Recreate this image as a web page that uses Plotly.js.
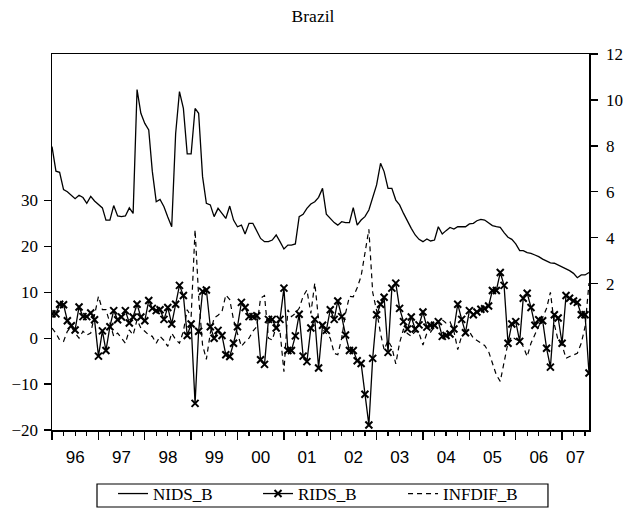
<!DOCTYPE html>
<html>
<head>
<meta charset="utf-8">
<script src="https://cdn.plot.ly/plotly-3.0.1.min.js"></script>
<style>html,body{margin:0;padding:0;background:#fff;}#chart{width:626px;height:517px;}</style>
</head>
<body>
<div id="chart"></div>
<script>
// Monthly observations, 1996M01 - 2007M08
var startYear = 1996;
var yearLabels = ["96","97","98","99","00","01","02","03","04","05","06","07"];

// NIDS_B (right axis)
var nids = [
  7.97, 6.90, 6.85, 6.10, 6.00, 5.85, 5.70, 5.85, 5.75, 5.50, 5.80, 5.60,
  5.45, 5.30, 4.77, 4.77, 5.40, 4.95, 4.92, 4.95, 5.30, 5.06, 10.45, 9.42,
  8.98, 8.69, 6.90, 5.57, 5.67, 5.35, 4.90, 4.48, 8.54, 10.36, 9.63, 7.65,
  7.65, 9.63, 9.42, 6.66, 5.50, 5.43, 4.92, 5.28, 5.06, 4.84, 5.38, 4.77,
  4.48, 4.55, 4.16, 4.63, 4.63, 4.27, 3.97, 3.83, 3.83, 3.90, 4.12, 3.83,
  3.51, 3.68, 3.68, 3.73, 4.92, 5.02, 5.28, 5.47, 5.57, 5.76, 6.15, 5.03,
  4.84, 4.66, 4.55, 4.70, 4.66, 4.66, 5.31, 4.55, 4.77, 4.92, 5.21, 5.70,
  6.30, 7.24, 6.88, 6.15, 6.15, 5.64, 5.43, 5.06, 4.70, 4.41, 4.12, 3.93,
  3.83, 3.95, 3.86, 3.90, 4.48, 4.16, 4.31, 4.45, 4.38, 4.48, 4.48, 4.48,
  4.60, 4.63, 4.74, 4.80, 4.77, 4.63, 4.53, 4.48, 4.45, 4.22, 4.02, 3.93,
  3.73, 3.44, 3.44, 3.35, 3.32, 3.25, 3.18, 3.07, 2.99, 2.91, 2.89, 2.81,
  2.74, 2.67, 2.57, 2.45, 2.26, 2.38, 2.38, 2.49
];

// RIDS_B (left axis)
var rids = [
  5.3, 5.3, 7.4, 7.3, 3.8, 2.7, 1.8, 6.8, 4.7, 4.7, 5.5, 4.0,
  -3.9, 1.6, -2.7, 2.5, 6.0, 4.0, 4.6, 6.0, 3.3, 4.6, 7.4, 4.6,
  3.8, 8.2, 6.5, 6.0, 6.2, 4.1, 6.7, 3.1, 7.4, 11.5, 9.3, 0.6,
  3.1, -14.2, 1.5, 10.2, 10.5, 2.5, 0.0, 1.7, 0.6, -3.6, -4.0, -1.1,
  2.5, 7.8, 6.7, 4.7, 4.7, 4.9, -4.7, -5.7, 4.1, 4.1, 2.2, 4.1,
  10.9, -2.7, -2.7, 0.5, 5.2, -3.9, -5.1, 2.2, 4.1, -6.5, 2.8, 1.7,
  6.2, 4.1, 8.1, 4.7, 0.7, -2.7, -2.7, -4.9, -5.5, -12.2, -18.9, -4.4,
  5.1, 7.4, 8.9, -3.1, 10.9, 12.0, 6.5, 3.6, 2.0, 4.6, 2.0, 2.9,
  5.7, 2.4, 2.8, 2.8, 3.6, 0.4, 0.6, 0.9, 2.0, 7.4, 4.1, 1.2,
  6.0, 5.1, 5.7, 6.3, 6.4, 7.0, 10.4, 10.4, 14.3, 11.5, -1.1, 3.1,
  3.6, -0.7, 8.7, 9.8, 6.7, 2.8, 4.0, 3.8, -2.2, -6.3, 5.1, 4.4,
  -1.1, 9.3, 8.7, 8.1, 7.8, 5.1, 5.1, -7.6
];

// INFDIF_B (left axis)
var infdif = [
  2.2, 1.1, -0.4, -0.7, 1.5, 2.5, 1.1, 0.0, 1.5, 0.7, 1.1, 5.4,
  9.1, 6.2, 6.2, 3.3, 0.4, 1.1, 0.0, -1.1, 1.8, 0.7, 4.0, 2.2,
  1.5, 0.7, 0.4, -1.1, 0.4, -0.5, -1.8, 1.1, -0.3, -1.1, 1.5, 6.2,
  4.7, 23.6, 9.1, -1.5, -4.6, 1.1, 4.4, 5.0, 5.8, 9.4, 8.4, 4.0,
  1.0, -1.8, -0.8, 0.0, 1.5, 2.5, 8.7, 9.3, 0.0, -0.4, 2.5, 1.5,
  -7.3, 6.2, 4.7, 5.4, 6.5, 9.1, 10.5, 5.4, 12.0, 4.0, 2.0, 1.0,
  0.0, -3.3, -3.6, 0.0, 5.4, 9.1, 9.0, 11.0, 13.5, 18.5, 23.7, 10.0,
  6.0, 1.0, -2.5, -0.5, -2.0, -5.6, -1.0, 2.0, 1.0, 0.4, 1.5, 1.1,
  -1.5, 1.1, 1.3, 2.5, 3.6, 4.0, 3.3, 3.6, 1.5, -2.5, 0.5, 1.1,
  1.4, 0.0, -0.5, -1.1, -1.6, -2.9, -5.5, -8.0, -9.4, -5.0, -1.0, 0.4,
  -0.3, -0.5, -1.8, -4.0, -1.1, 0.8, 2.5, 4.5, 6.5, 10.0, 3.0, -0.5,
  -1.5, -4.4, -4.0, -3.6, -3.3, -1.1, 2.5, 12.0
];

var leftTicks = [-20, -10, 0, 10, 20, 30];
var rightTicks = [2, 4, 6, 8, 10, 12];

function pad(n){ return (n < 10 ? "0" : "") + n; }
var dates = [];
for (var i = 0; i < nids.length; i++) {
  var y = startYear + Math.floor(i / 12), m = (i % 12) + 1;
  dates.push(y + "-" + pad(m) + "-01");
}
var xStart = dates[0], xEnd = dates[dates.length - 1];

// label positions: centre of each year's visible span
function toMs(s){ return new Date(s + "T00:00:00Z").getTime(); }
var endMs = toMs(xEnd);
var labelVals = [];
for (var k = 0; k < yearLabels.length; k++) {
  var a = Date.UTC(startYear + k, 0, 1);
  var b = Math.min(Date.UTC(startYear + k + 1, 0, 1), endMs);
  labelVals.push(new Date((a + b) / 2).toISOString().slice(0, 10));
}

var serif = "Liberation Serif";
var sans = "Liberation Sans";

var traces = [
  {x: dates, y: nids, name: "NIDS_B", type: "scatter", mode: "lines",
   yaxis: "y2", line: {color: "black", width: 1.3}},
  {x: dates, y: rids, name: "RIDS_B", type: "scatter", mode: "lines+markers",
   line: {color: "black", width: 1.3},
   marker: {symbol: "x-thin", size: 7, line: {color: "black", width: 2}, color: "black"}},
  {x: dates, y: infdif, name: "INFDIF_B", type: "scatter", mode: "lines",
   line: {color: "black", width: 1.2, dash: "5px,4px"}},
  // carrier for the year labels axis (draws nothing)
  {x: labelVals, y: labelVals.map(function(){ return null; }), xaxis: "x2", yaxis: "y",
   type: "scatter", mode: "lines", showlegend: false, hoverinfo: "skip"}
];

var layout = {
  width: 626, height: 517,
  margin: {l: 52, r: 37, t: 54, b: 87},
  paper_bgcolor: "white", plot_bgcolor: "white",
  title: {text: "Brazil", font: {family: serif, size: 17.5, color: "black"},
          xref: "container", x: 0.5, xanchor: "center", yref: "container", y: 0.969, yanchor: "middle"},
  showlegend: true,
  legend: {orientation: "h", xref: "container", x: 0.528, xanchor: "center",
           yref: "container", y: 0.0793, yanchor: "top",
           font: {family: serif, size: 17, color: "black"},
           borderwidth: 0, bgcolor: "rgba(0,0,0,0)",
           entrywidth: 100, entrywidthmode: "pixels", traceorder: "normal"},
  shapes: [
    {type: "rect", xref: "paper", yref: "paper", x0: 0.0838, x1: 0.9236, y0: -0.2048, y1: -0.1436,
     line: {color: "black", width: 1.2}, fillcolor: "rgba(0,0,0,0)", layer: "below"}
  ],
  xaxis: {type: "date", range: [xStart, xEnd], showgrid: false, zeroline: false,
          showline: true, linecolor: "black", linewidth: 1.5, mirror: true,
          ticks: "outside", tick0: xStart, dtick: "M12", ticklen: 8, tickwidth: 1.3, tickcolor: "black",
          showticklabels: false,
          minor: {ticks: "outside", dtick: "M3", tick0: xStart, ticklen: 4, tickwidth: 1.2, tickcolor: "black", showgrid: false}},
  xaxis2: {type: "date", range: [xStart, xEnd], overlaying: "x", anchor: "y", side: "bottom",
           showgrid: false, zeroline: false, showline: false,
           tickmode: "array", tickvals: labelVals, ticktext: yearLabels,
           ticks: "outside", ticklen: 12, tickcolor: "rgba(0,0,0,0)",
           tickfont: {family: sans, size: 17, color: "black"}},
  yaxis: {range: [-20, 61.9], showgrid: false, zeroline: false,
          showline: true, linecolor: "black", linewidth: 1.5,
          tickmode: "array", tickvals: leftTicks, ticks: "outside", ticklen: 7, tickwidth: 1.3, tickcolor: "black",
          ticklabelstandoff: 2,
          tickfont: {family: serif, size: 17, color: "black"}},
  yaxis2: {range: [-4.37, 12], overlaying: "y", side: "right", anchor: "x",
           showgrid: false, zeroline: false, showline: true, linecolor: "black", linewidth: 1.5,
           tickmode: "array", tickvals: rightTicks, ticks: "outside", ticklen: 7, tickwidth: 1.3, tickcolor: "black",
           ticklabelstandoff: 5,
           tickfont: {family: serif, size: 17, color: "black"}}
};

Plotly.newPlot("chart", traces, layout, {staticPlot: true, displayModeBar: false});
</script>
</body>
</html>
